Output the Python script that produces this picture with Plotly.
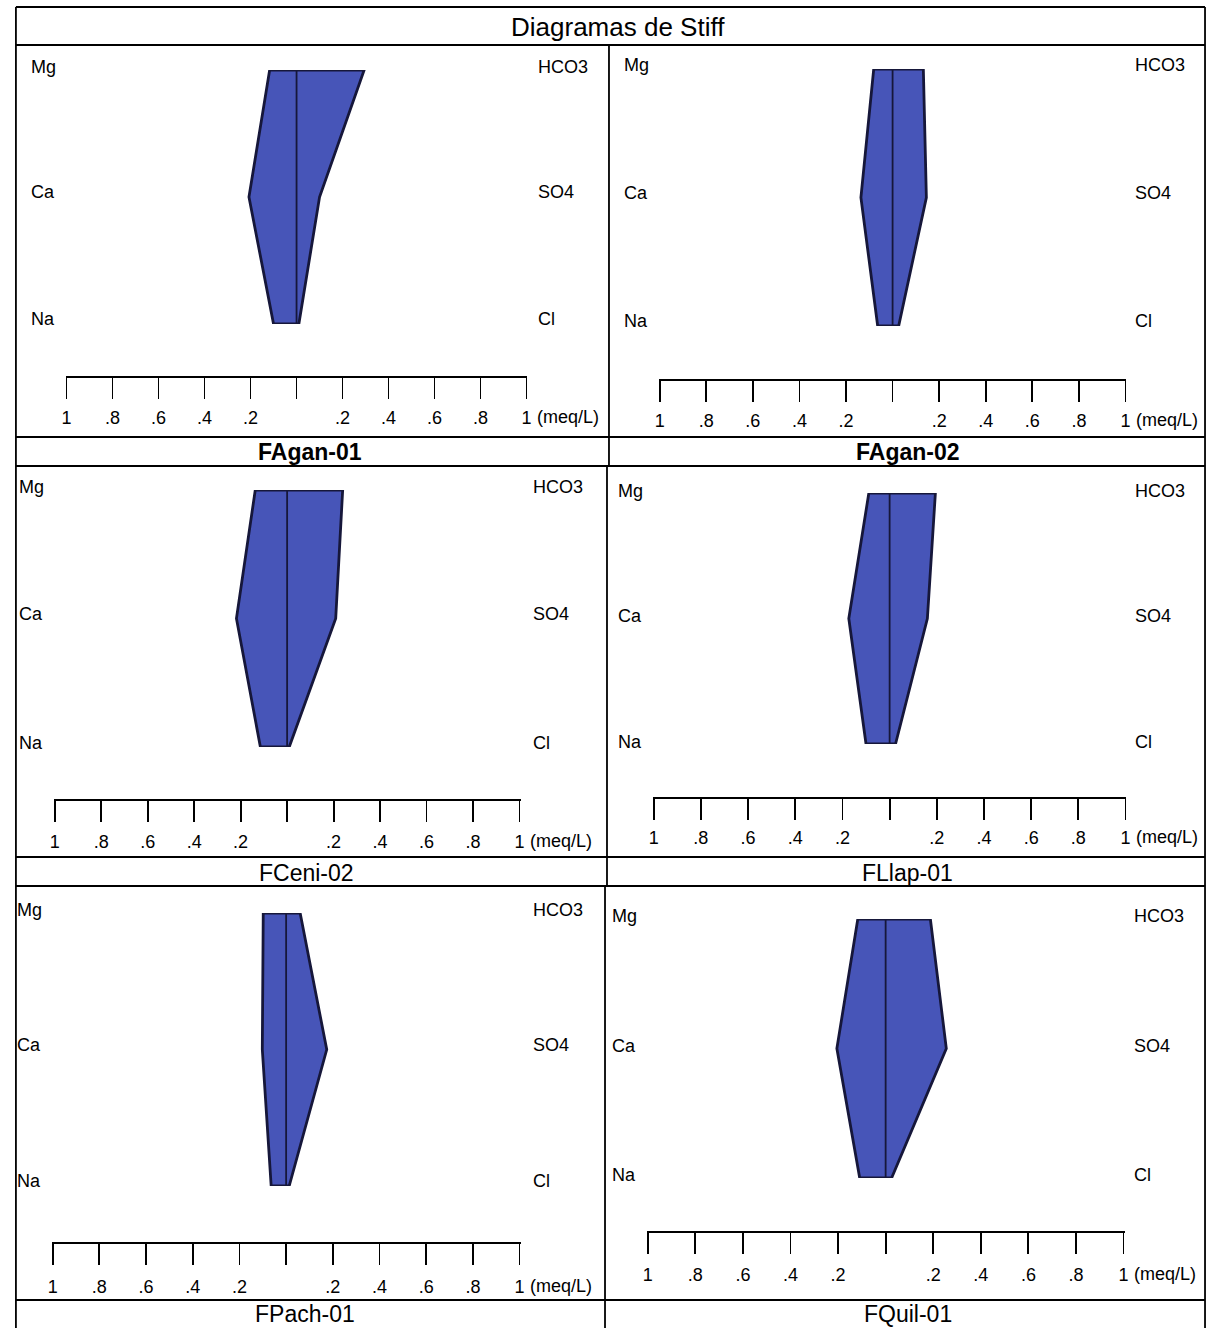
import plotly.graph_objects as go

# ---------------- data (meq/L) ----------------
STATIONS = ["FAgan-01", "FAgan-02", "FCeni-02", "FLlap-01", "FPach-01", "FQuil-01"]
MG   = [0.117, 0.081, 0.137, 0.088, 0.098, 0.117]
CA   = [0.207, 0.136, 0.218, 0.173, 0.102, 0.205]
NA   = [0.100, 0.064, 0.115, 0.100, 0.064, 0.109]
HCO3 = [0.294, 0.132, 0.239, 0.194, 0.060, 0.188]
SO4  = [0.100, 0.145, 0.209, 0.160, 0.174, 0.255]
CL   = [0.010, 0.026, 0.009, 0.025, 0.013, 0.025]
CATIONS = ["Mg", "Ca", "Na"]
ANIONS = ["HCO3", "SO4", "Cl"]
TICK_VALS = [-1.0, -0.8, -0.6, -0.4, -0.2, 0.0, 0.2, 0.4, 0.6, 0.8, 1.0]
TICK_TEXT = ["1", ".8", ".6", ".4", ".2", "", ".2", ".4", ".6", ".8", "1"]
UNIT = "(meq/L)"
TITLE = "Diagramas de Stiff"

# ---------------- layout geometry (pixels) ----------------
W, H = 1212, 1328
# scale left, scale right, polygon top, polygon bottom, axis line y, tick-label y,
# left-label x, right-label x, label ys (top, mid, bottom), name x, name y, bold
PANELS = [
    dict(sl=63, sr=526, pt=70, pb=324, ay=376, ty=417, lx=25, rx=536, ly=(67, 192, 319), nx=308, ny=452, bold=True),
    dict(sl=660, sr=1129, pt=69, pb=326, ay=379, ty=420, lx=622, rx=1137, ly=(65, 193, 321), nx=910, ny=452, bold=True),
    dict(sl=51, sr=519, pt=490, pb=747, ay=799, ty=841, lx=13, rx=530, ly=(487, 614, 743), nx=305, ny=873, bold=False),
    dict(sl=654, sr=1129, pt=493, pb=744, ay=797, ty=837, lx=616, rx=1137, ly=(491, 616, 742), nx=910, ny=873, bold=False),
    dict(sl=49, sr=519, pt=913, pb=1186, ay=1242, ty=1286, lx=11, rx=530, ly=(910, 1045, 1181), nx=303, ny=1314, bold=False),
    dict(sl=648, sr=1127, pt=919, pb=1178, ay=1231, ty=1274, lx=610, rx=1135, ly=(916, 1046, 1175), nx=910, ny=1314, bold=False),
]

FONT = "Liberation Sans, Arial, sans-serif"
FILL = "#4755b8"
EDGE = "#16173a"

def px(x):
    return x / W

def py(y):
    return 1 - y / H

fig = go.Figure()
layout = dict(
    width=W, height=H,
    margin=dict(l=0, r=0, t=0, b=0),
    paper_bgcolor="white", plot_bgcolor="rgba(0,0,0,0)",
    showlegend=False,
    font=dict(family=FONT, color="black"),
)
annotations = []
R = 1.004
TICKLEN = 21

for i, p in enumerate(PANELS):
    k = i + 1
    xa = f"x{k}" if k > 1 else "x"
    ya = f"y{k}" if k > 1 else "y"
    xs = [-MG[i], HCO3[i], SO4[i], CL[i], -NA[i], -CA[i], -MG[i]]
    ys = [2, 2, 1, 0, 0, 1, 2]
    fig.add_trace(go.Scatter(x=xs, y=ys, mode="lines", fill="toself",
                             fillcolor=FILL, line=dict(color=EDGE, width=2.8),
                             xaxis=xa, yaxis=ya, hoverinfo="skip"))
    fig.add_trace(go.Scatter(x=[0, 0], y=[0, 2], mode="lines",
                             line=dict(color=EDGE, width=1.8),
                             xaxis=xa, yaxis=ya, hoverinfo="skip"))
    c = (p["sl"] + p["sr"]) / 2
    half = (p["sr"] - p["sl"]) / 2
    standoff = max(0, (p["ty"] - p["ay"]) - 37)
    layout[f"xaxis{k if k > 1 else ''}"] = dict(
        domain=[px(c - half * R), px(c + half * R)], range=[-R, R],
        anchor="free", position=py(p["ay"]),
        showline=True, linecolor="black", linewidth=1.8,
        ticks="outside", ticklen=TICKLEN, tickwidth=1.8, tickcolor="black",
        tickmode="array", tickvals=TICK_VALS, ticktext=TICK_TEXT,
        ticklabelstandoff=standoff,
        tickfont=dict(size=18, family=FONT, color="black"),
        showgrid=False, zeroline=False, fixedrange=True,
    )
    layout[f"yaxis{k if k > 1 else ''}"] = dict(
        domain=[py(p["pb"]), py(p["pt"])], range=[0, 2],
        anchor=xa, visible=False, fixedrange=True,
    )
    # unit label next to last tick
    annotations.append(dict(x=1, xref=xa, y=py(p["ty"]), yref="paper",
                            text=UNIT, showarrow=False, xanchor="left",
                            yanchor="middle", xshift=8,
                            font=dict(size=18, family=FONT, color="black")))
    for j in range(3):
        annotations.append(dict(x=px(p["lx"]), y=py(p["ly"][j]), xref="paper", yref="paper",
                                text=CATIONS[j], showarrow=False, xanchor="left", yanchor="middle",
                                font=dict(size=18, family=FONT, color="black")))
        annotations.append(dict(x=px(p["rx"]), y=py(p["ly"][j]), xref="paper", yref="paper",
                                text=ANIONS[j], showarrow=False, xanchor="left", yanchor="middle",
                                font=dict(size=18, family=FONT, color="black")))
    name = f"<b>{STATIONS[i]}</b>" if p["bold"] else STATIONS[i]
    annotations.append(dict(x=px(p["nx"]), y=py(p["ny"]), xref="paper", yref="paper",
                            text=name, showarrow=False, xanchor="center", yanchor="middle",
                            font=dict(size=23, family=FONT, color="black")))

annotations.append(dict(x=px(618), y=py(27), xref="paper", yref="paper", text=TITLE,
                        showarrow=False, xanchor="center", yanchor="middle",
                        font=dict(size=26, family=FONT, color="black")))

# frame lines
shapes = []
def hline(y, x0=12, x1=1209):
    shapes.append(dict(type="line", xref="paper", yref="paper", x0=px(x0), x1=px(x1),
                       y0=py(y), y1=py(y), line=dict(color="black", width=1.8)))
def vline(x, y0, y1):
    shapes.append(dict(type="line", xref="paper", yref="paper", x0=px(x), x1=px(x),
                       y0=py(y0), y1=py(y1), line=dict(color="black", width=1.8)))

for y in [7, 45, 437, 466, 857, 886, 1300]:
    hline(y)
vline(12, 7, 1328)
vline(1209, 7, 1328)
vline(609, 45, 466)
vline(607, 466, 886)
vline(605, 886, 1328)

layout["annotations"] = annotations
layout["shapes"] = shapes
fig.update_layout(**layout)
fig.write_html("out.html",
               config={"displayModeBar": False, "staticPlot": True},
               post_script="document.body.style.margin='0px';document.body.style.overflow='hidden';")
